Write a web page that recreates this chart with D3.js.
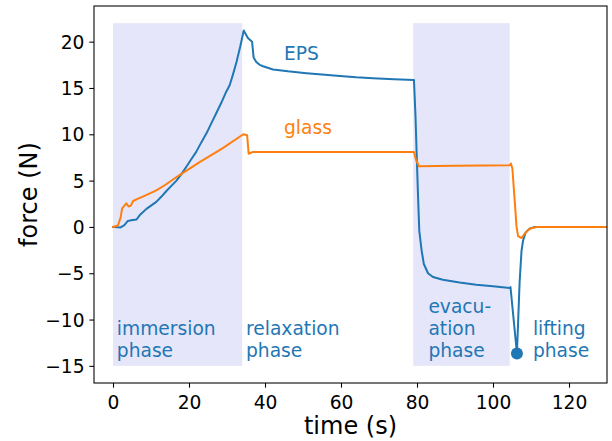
<!DOCTYPE html>
<html><head><meta charset="utf-8">
<script src="https://cdn.jsdelivr.net/npm/d3@7"></script>
<style>body{margin:0;background:#fff} text{font-family:"DejaVu Sans",sans-serif}</style>
</head><body><svg id="c" width="612" height="441"></svg>
<script>
// ---- data ----
const epsTime  = [0, 2.0, 3.0, 3.9, 4.8, 6.2, 7.0, 8.8, 10.0, 11.4, 12.7, 14.0, 15.3, 16.7, 18.0, 19.3, 20.6, 21.9, 23.2, 24.6, 25.9, 27.2, 28.5, 29.8, 30.7, 31.6, 32.5, 33.5, 34.4, 35.5, 36.6, 37.0, 37.7, 38.6, 39.5, 42.1, 46.0, 50.9, 55.0, 59.7, 64.0, 68.4, 74.0, 79.2, 79.6, 79.9, 80.3, 80.6, 81.2, 81.8, 82.9, 84.2, 86.8, 91.2, 95.6, 100, 104.4, 104.6, 106.3, 107.0, 107.5, 107.9, 108.6, 109.6, 111, 120, 130];
const epsForce = [0, -0.05, 0.2, 0.65, 0.72, 0.8, 1.25, 1.95, 2.3, 2.7, 3.25, 3.85, 4.4, 5.0, 5.7, 6.5, 7.3, 8.1, 9.1, 10.1, 11.2, 12.3, 13.4, 14.6, 15.3, 16.5, 17.8, 19.5, 21.2, 20.4, 20.0, 18.3, 17.8, 17.5, 17.35, 17.0, 16.8, 16.6, 16.45, 16.3, 16.15, 16.05, 15.95, 15.85, 12.0, 8.0, 3.0, -0.4, -2.5, -4.0, -5.0, -5.4, -5.7, -6.0, -6.25, -6.4, -6.6, -6.5, -13.66, -6.0, -2.6, -1.5, -0.6, -0.2, 0, 0, 0];
const glassTime  = [0, 1.3, 2.0, 2.4, 3.0, 3.5, 4.1, 4.7, 5.3, 6.6, 8.0, 11.4, 13.6, 17.5, 22.8, 28.9, 34.3, 35.3, 35.7, 36.8, 41.2, 60, 79.2, 79.7, 80.5, 90, 104.4, 104.7, 105.1, 105.7, 106.2, 106.6, 107.5, 108.3, 109.6, 111.4, 120, 130];
const glassForce = [0, 0.15, 1.0, 2.0, 2.3, 2.55, 2.2, 2.3, 2.8, 3.05, 3.3, 3.95, 4.5, 5.6, 7.0, 8.5, 10.0, 9.9, 7.9, 8.1, 8.1, 8.1, 8.1, 7.3, 6.55, 6.6, 6.65, 6.85, 6.3, 2.9, 0, -1.0, -1.2, -0.75, -0.2, 0, 0, 0];
const xTicks = [0, 20, 40, 60, 80, 100, 120];
const yTicks = [-15, -10, -5, 0, 5, 10, 15, 20];
const phaseStart = [0, 79];
const phaseEnd = [34, 104.4];
const phaseBottom = -15, phaseTop = 22;
const phaseLabels = [["immersion", "phase"], ["relaxation", "phase"], ["evacu-", "ation", "phase"], ["lifting", "phase"]];
const phaseLabelX = [1, 35, 83, 110.5];
const phaseLabelY = -14;
const seriesNames = ["EPS", "glass"];
const seriesLabelX = [45, 45];
const seriesLabelY = [18, 10];
const peakTime = 106.3, peakForce = -13.66;

// ---- layout ----
const L = 94, R = 607, T = 6, B = 383;
const blue = "#1f77b4", orange = "#ff7f0e";
const svg = d3.select("#c");
const x = d3.scaleLinear().domain([-5, 130]).range([L, R]);
const y = d3.scaleLinear().domain([-16.85, 23.85]).range([B, T]);

// shaded phases
svg.append("g").selectAll("rect").data(phaseStart).join("rect")
  .attr("x", (d) => x(d))
  .attr("width", (d, i) => x(phaseEnd[i]) - x(d))
  .attr("y", y(phaseTop))
  .attr("height", y(phaseBottom) - y(phaseTop))
  .attr("fill", "#e6e6fa");

// lines
const line = d3.line().x(d => x(d[0])).y(d => y(d[1]));
svg.append("clipPath").attr("id", "clip").append("rect")
  .attr("x", L).attr("y", T).attr("width", R - L).attr("height", B - T);
svg.append("path").datum(epsTime.map((t, i) => [t, epsForce[i]]))
  .attr("d", line).attr("fill", "none").attr("stroke", blue).attr("stroke-width", 2)
  .attr("stroke-linejoin", "round").attr("stroke-linecap", "square").attr("clip-path", "url(#clip)");
svg.append("path").datum(glassTime.map((t, i) => [t, glassForce[i]]))
  .attr("d", line).attr("fill", "none").attr("stroke", orange).attr("stroke-width", 2)
  .attr("stroke-linejoin", "round").attr("stroke-linecap", "square").attr("clip-path", "url(#clip)");

// peak marker
svg.append("circle").attr("cx", x(peakTime)).attr("cy", y(peakForce)).attr("r", 6).attr("fill", blue);

// series labels
svg.append("g").selectAll("text").data(seriesNames).join("text")
  .attr("x", (d, i) => x(seriesLabelX[i])).attr("y", (d, i) => y(seriesLabelY[i]))
  .attr("fill", (d, i) => i === 0 ? blue : orange)
  .attr("font-size", "18.67px").text(d => d);

// phase labels
const pl = svg.append("g").selectAll("text").data(phaseLabels).join("text")
  .attr("font-size", "18.67px").attr("fill", blue);
pl.each(function (lines, i) {
  const t = d3.select(this);
  const n = lines.length;
  lines.forEach((s, k) => {
    t.append("tspan").attr("x", x(phaseLabelX[i]))
      .attr("y", y(phaseLabelY) - (n - 1 - k) * 21.7).text(s);
  });
});

// axes
const xa = svg.append("g").attr("transform", `translate(0,${B})`)
  .call(d3.axisBottom(x).tickValues(xTicks).tickSize(4.67).tickFormat(d3.format("d")));
xa.select(".domain").remove();
xa.selectAll("line").attr("stroke", "#000").attr("stroke-width", 1.07);
xa.selectAll("text").attr("y", 25.5).attr("dy", null).attr("font-size", "18.67px")
  .attr("font-family", "DejaVu Sans").attr("fill", "#000");

const ya = svg.append("g").attr("transform", `translate(${L},0)`)
  .call(d3.axisLeft(y).tickValues(yTicks).tickSize(4.67).tickFormat(d3.format("d")));
ya.select(".domain").remove();
ya.selectAll("line").attr("stroke", "#000").attr("stroke-width", 1.07);
ya.selectAll("text").attr("x", -9.5).attr("dy", "0.35em").attr("font-size", "18.67px")
  .attr("font-family", "DejaVu Sans").attr("fill", "#000");

// frame
svg.append("rect").attr("x", L).attr("y", T).attr("width", R - L).attr("height", B - T)
  .attr("fill", "none").attr("stroke", "#000").attr("stroke-width", 1.07);

// axis labels
svg.append("text").attr("x", (L + R) / 2).attr("y", 434).attr("text-anchor", "middle")
  .attr("font-size", "24px").attr("fill", "#000").text("time (s)");
svg.append("text").attr("transform", `translate(36.5,${(T + B) / 2}) rotate(-90)`)
  .attr("text-anchor", "middle").attr("font-size", "24px").attr("fill", "#000").text("force (N)");
</script></body></html>
